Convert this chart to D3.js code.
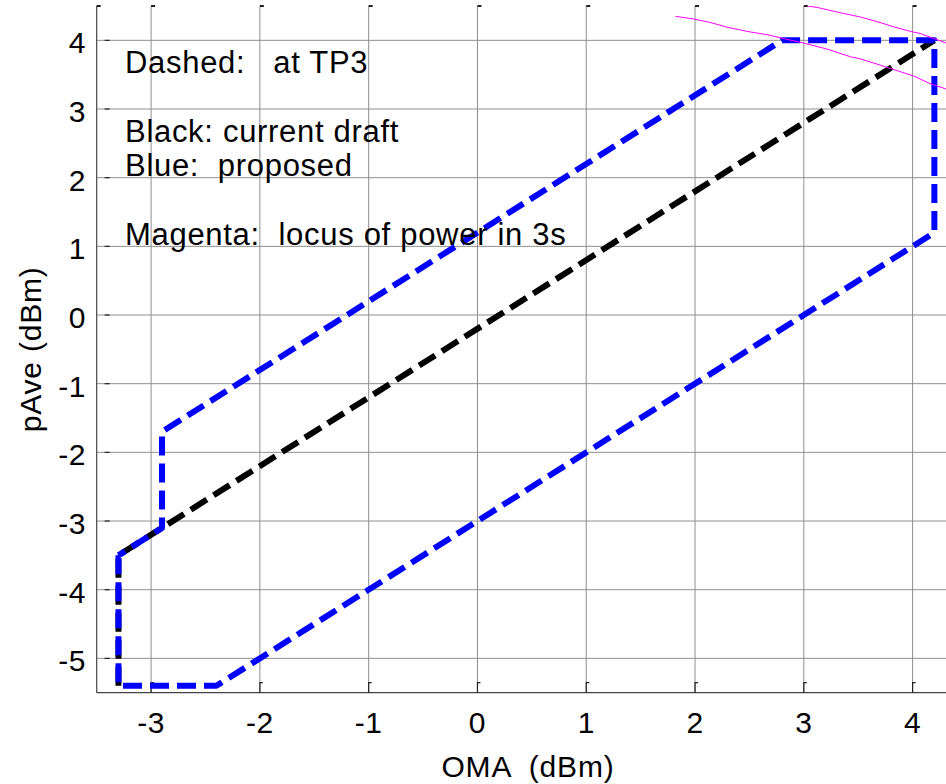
<!DOCTYPE html>
<html>
<head>
<meta charset="utf-8">
<script src="https://cdn.jsdelivr.net/npm/d3@7"></script>
<style>
    body { margin: 0; background: #fff; }
    text { font-family: "Liberation Sans", Arial, sans-serif; fill: #000; white-space: pre; }
    .tick_label { font-size: 30px; letter-spacing: 0.5px; }
    .label { font-size: 30px; letter-spacing: 0.8px; }
    .note { font-size: 31px; letter-spacing: 0.7px; }
</style>
</head>
<body>
<svg id="chart" width="946" height="784"></svg>
<script>
// axis ticks
let xTicks = [-3, -2, -1, 0, 1, 2, 3, 4]
let yTicks = [-5, -4, -3, -2, -1, 0, 1, 2, 3, 4]

// black: current draft
let blackX = [-3.3, -3.3, 4.2]
let blackY = [-5.4, -3.5, 4.0]

// blue: proposed
let blueX = [-3.3, -3.3, -2.4, 4.2, 4.2, 2.8, -2.9, -2.9, -3.3]
let blueY = [-3.5, -5.4, -5.4, 1.2, 4.0, 4.0, -1.7, -3.1, -3.5]

// magenta: locus of power in 3s (two curves)
let mag1X = [1.82, 1.99, 2.14, 2.30, 2.48, 2.67, 2.83, 3.00, 3.22, 3.43, 3.52, 3.70, 4.01, 4.16, 4.31, 4.40]
let mag1Y = [4.35, 4.31, 4.26, 4.19, 4.13, 4.08, 4.02, 3.96, 3.87, 3.76, 3.73, 3.64, 3.48, 3.37, 3.29, 3.24]
let mag2X = [2.95, 3.03, 3.12, 3.34, 3.52, 3.70, 3.82, 3.98, 4.07, 4.19, 4.31, 4.40]
let mag2Y = [4.55, 4.50, 4.48, 4.40, 4.34, 4.26, 4.20, 4.13, 4.10, 4.03, 3.96, 3.91]

let notes = ["Dashed:   at TP3", "Black: current draft", "Blue:  proposed", "Magenta:  locus of power in 3s"]
let noteY = [4.0, 3.0, 2.5, 1.5]

let pLeft = 96.7, pRight = 967, pTop = 6, pBottom = 692.7

let xScale = d3.scaleLinear().domain([-3.5, 4.5]).range([pLeft, pRight])
let yScale = d3.scaleLinear().domain([-5.5, 4.5]).range([pBottom, pTop])

let svg = d3.select("#chart")

svg.append("defs").append("clipPath").attr("id", "plotclip")
    .append("rect")
    .attr("x", pLeft).attr("y", pTop)
    .attr("width", 946 - pLeft).attr("height", pBottom - pTop)

// grid
svg.append("g").selectAll("line").data(xTicks).enter().append("line")
    .attr("x1", d => xScale(d)).attr("x2", d => xScale(d))
    .attr("y1", pTop).attr("y2", pBottom)
    .attr("stroke", "#8f8f8f").attr("stroke-width", 1)
svg.append("g").selectAll("line").data(yTicks).enter().append("line")
    .attr("x1", pLeft).attr("x2", 946)
    .attr("y1", d => yScale(d)).attr("y2", d => yScale(d))
    .attr("stroke", "#8f8f8f").attr("stroke-width", 1)

// spines
svg.append("line").attr("x1", pLeft).attr("x2", pLeft).attr("y1", pTop).attr("y2", pBottom)
    .attr("stroke", "#444").attr("stroke-width", 1.2)
svg.append("line").attr("x1", pLeft).attr("x2", 946).attr("y1", pBottom).attr("y2", pBottom)
    .attr("stroke", "#444").attr("stroke-width", 1.2)
svg.append("line").attr("x1", pLeft).attr("x2", pLeft + 4).attr("y1", pTop).attr("y2", pTop)
    .attr("stroke", "#222").attr("stroke-width", 2)

// tick marks
svg.append("g").selectAll("path").data(xTicks).enter().append("path")
    .attr("d", d => `M${xScale(d)},${pBottom} V${pBottom - 10} h3`)
    .attr("fill", "none").attr("stroke", "#222").attr("stroke-width", 1.2)
svg.append("g").selectAll("line").data(xTicks).enter().append("line")
    .attr("x1", d => xScale(d)).attr("x2", d => xScale(d) + 4)
    .attr("y1", pTop).attr("y2", pTop)
    .attr("stroke", "#222").attr("stroke-width", 2)
svg.append("g").selectAll("line").data(yTicks).enter().append("line")
    .attr("x1", pLeft + 8).attr("x2", pLeft + 13)
    .attr("y1", d => yScale(d)).attr("y2", d => yScale(d))
    .attr("stroke", "#222").attr("stroke-width", 1.2)

// tick labels
svg.append("g").selectAll("text").data(xTicks).enter().append("text")
    .attr("class", "tick_label")
    .attr("x", d => xScale(d)).attr("y", 733)
    .attr("text-anchor", "middle")
    .text(d => d)
svg.append("g").selectAll("text").data(yTicks).enter().append("text")
    .attr("class", "tick_label")
    .attr("x", 86).attr("y", d => yScale(d) + 13)
    .attr("text-anchor", "end")
    .text(d => d)

// axis labels
svg.append("text").attr("class", "label")
    .attr("x", 528).attr("y", 777)
    .attr("text-anchor", "middle")
    .text("OMA  (dBm)")
svg.append("g")
    .attr("transform", `translate(41,${(pTop + pBottom) / 2}) rotate(-90)`)
    .append("text").attr("class", "label")
    .attr("text-anchor", "middle")
    .text("pAve (dBm)")

let plot = svg.append("g").attr("clip-path", "url(#plotclip)")

let line = d3.line().x(d => xScale(d[0])).y(d => yScale(d[1]))

function drawCurve(xs, ys, color, width, dash) {
    let pts = xs.map((x, i) => [x, ys[i]])
    let p = plot.append("path").datum(pts)
        .attr("d", line)
        .attr("fill", "none")
        .attr("stroke", color)
        .attr("stroke-width", width)
        .attr("stroke-linejoin", "round")
    if (dash) p.attr("stroke-dasharray", dash)
}

drawCurve(blackX, blackY, "#000", 6, "19,8")
drawCurve(blueX, blueY, "#0000ff", 6, "19,8")
drawCurve(mag1X, mag1Y, "#ff00ff", 1, null)
drawCurve(mag2X, mag2Y, "#ff00ff", 1, null)

// notes
svg.append("g").selectAll("text").data(notes).enter().append("text")
    .attr("class", "note")
    .attr("x", 125)
    .attr("y", (d, i) => yScale(noteY[i]) + 33)
    .text(d => d)
</script>
</body>
</html>
